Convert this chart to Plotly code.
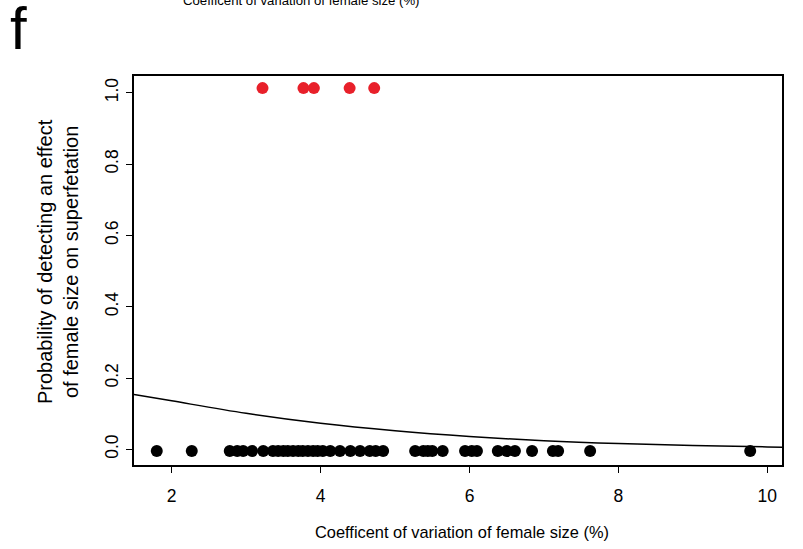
import plotly.graph_objects as go

# Coefficient of variation of female size (%) per population, split by outcome
cv_no_effect = [1.80, 2.27, 2.78, 2.88, 2.96, 3.08, 3.23, 3.36, 3.43, 3.50, 3.56,
                3.63, 3.70, 3.76, 3.83, 3.90, 3.96, 4.03, 4.13, 4.26, 4.40, 4.53,
                4.66, 4.74, 4.84, 5.27, 5.38, 5.44, 5.50, 5.64, 5.94, 6.03, 6.10,
                6.38, 6.50, 6.61, 6.84, 7.12, 7.19, 7.62, 9.77]
p_no_effect = [-0.005] * len(cv_no_effect)

cv_effect = [3.22, 3.77, 3.91, 4.39, 4.72]
p_effect = [1.013] * len(cv_effect)

# Fitted probability curve
fit_cv = [1.494, 2.0, 3.0, 4.0, 5.0, 6.0, 7.0, 8.0, 9.0, 10.0, 10.197]
fit_p = [0.154, 0.136, 0.101, 0.073, 0.052, 0.036, 0.024, 0.016, 0.011, 0.0068, 0.006]

x_ticks = [2, 4, 6, 8, 10]
y_ticks = [0.0, 0.2, 0.4, 0.6, 0.8, 1.0]
y_tick_text = ["0.0", "0.2", "0.4", "0.6", "0.8", "1.0"]

FONT = "Liberation Sans, Arial, Helvetica, sans-serif"

W, H = 803, 549
ML, MR, MT, MB = 134, 21, 76, 84
PW, PH = W - ML - MR, H - MT - MB

fig = go.Figure()
fig.add_trace(go.Scatter(x=fit_cv, y=fit_p, mode="lines", line=dict(color="black", width=1.5, shape="spline"),
                         hoverinfo="skip", showlegend=False))
fig.add_trace(go.Scatter(x=cv_no_effect, y=p_no_effect, mode="markers",
                         marker=dict(color="black", size=12, line=dict(width=0)), showlegend=False))
fig.add_trace(go.Scatter(x=cv_effect, y=p_effect, mode="markers",
                         marker=dict(color="#E8202A", size=12, line=dict(width=0)), showlegend=False))

axis_common = dict(showline=True, linecolor="black", linewidth=1.5, mirror=True,
                   ticks="outside", ticklen=6, tickwidth=1, tickcolor="black",
                   showgrid=False, zeroline=False,
                   tickfont=dict(family=FONT, size=17.5, color="black"))

fig.update_xaxes(range=[1.494, 10.197], tickvals=x_ticks, ticktext=[str(v) for v in x_ticks],
                 ticklabelstandoff=8, **axis_common)
fig.update_yaxes(range=[-0.044, 1.047], tickvals=y_ticks, ticktext=y_tick_text, tickangle=-90,
                 ticklabelstandoff=1, **axis_common)


def px_x(px):
    return (px - ML) / PW


def px_y(py):
    return (H - MB - py) / PH


annotations = [
    dict(text="Coefficent of variation of female size (%)", x=px_x(462), y=px_y(532),
         xref="paper", yref="paper", showarrow=False, xanchor="center", yanchor="middle",
         font=dict(family=FONT, size=16.4, color="black")),
    dict(text="Probability of detecting an effect<br>of female size on superfetation",
         x=px_x(58), y=px_y(262), xref="paper", yref="paper", showarrow=False,
         textangle=-90, xanchor="center", yanchor="middle",
         font=dict(family=FONT, size=20, color="black")),
    dict(text="Coefficent of variation of female size (%)", x=px_x(301), y=px_y(10),
         xref="paper", yref="paper", showarrow=False, xanchor="center", yanchor="bottom",
         font=dict(family=FONT, size=13.2, color="black")),
    dict(text="f", x=px_x(8), y=px_y(64), xref="paper", yref="paper", showarrow=False,
         xanchor="left", yanchor="bottom", font=dict(family=FONT, size=60, color="black")),
]

fig.update_layout(width=W, height=H, margin=dict(l=ML, r=MR, t=MT, b=MB),
                  plot_bgcolor="white", paper_bgcolor="white",
                  annotations=annotations, showlegend=False)

fig.write_html("out.html")
